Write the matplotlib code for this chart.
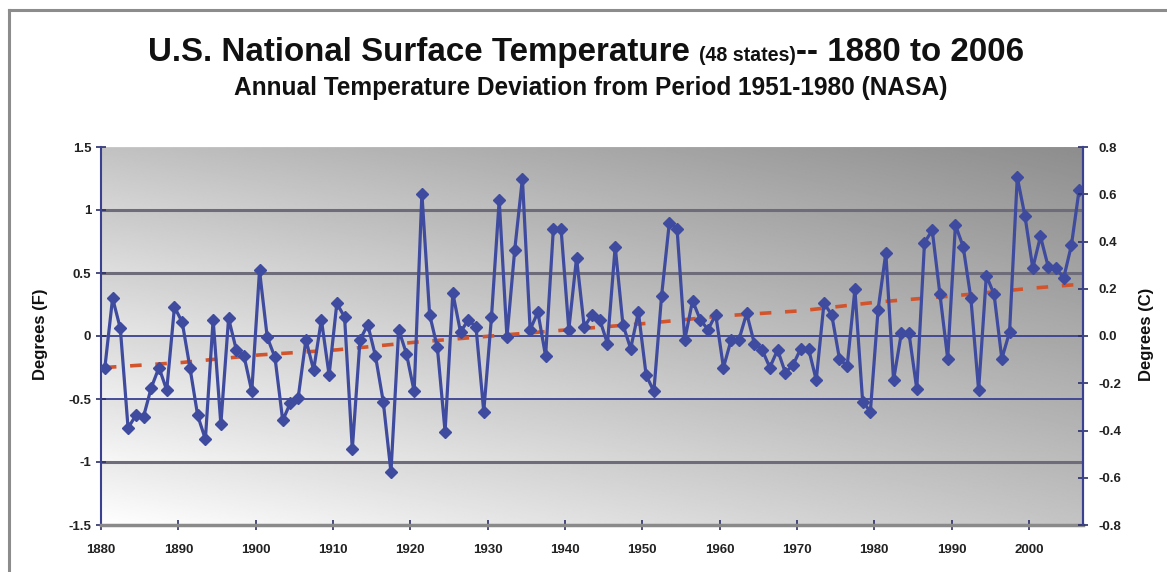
import matplotlib
matplotlib.use('Agg')
import matplotlib.pyplot as plt
from matplotlib import font_manager as fm
import numpy as np

# ---------------- data ----------------
years = list(range(1880, 2007))
temps_f = [
    -0.25, 0.30, 0.06, -0.73, -0.63, -0.64, -0.41, -0.25, -0.43, 0.23,   # 1880s
    0.11, -0.25, -0.63, -0.82, 0.13, -0.70, 0.14, -0.11, -0.16, -0.44,   # 1890s
    0.52, -0.01, -0.17, -0.67, -0.53, -0.49, -0.03, -0.27, 0.13, -0.31,  # 1900s
    0.26, 0.15, -0.90, -0.03, 0.09, -0.16, -0.52, -1.08, 0.05, -0.14,    # 1910s
    -0.44, 1.13, 0.17, -0.09, -0.76, 0.34, 0.03, 0.13, 0.07, -0.60,      # 1920s
    0.15, 1.08, -0.01, 0.68, 1.25, 0.05, 0.19, -0.16, 0.85, 0.85,        # 1930s
    0.05, 0.62, 0.07, 0.17, 0.13, -0.06, 0.71, 0.09, -0.10, 0.19,        # 1940s
    -0.31, -0.44, 0.32, 0.90, 0.85, -0.03, 0.28, 0.13, 0.05, 0.17,       # 1950s
    -0.25, -0.03, -0.03, 0.18, -0.06, -0.11, -0.25, -0.11, -0.29, -0.23, # 1960s
    -0.10, -0.10, -0.35, 0.26, 0.17, -0.18, -0.24, 0.37, -0.52, -0.60,   # 1970s
    0.21, 0.66, -0.35, 0.02, 0.02, -0.42, 0.74, 0.84, 0.33, -0.18,       # 1980s
    0.88, 0.71, 0.30, -0.43, 0.48, 0.33, -0.18, 0.03, 1.26, 0.95,        # 1990s
    0.54, 0.79, 0.55, 0.54, 0.46, 0.72, 1.16,                            # 2000s
]
trend_years = [1880, 1890, 1900, 1910, 1920, 1930, 1940, 1950, 1960, 1970, 1980, 1990, 2000, 2006]
trend_f = [-0.25, -0.21, -0.15, -0.11, -0.05, 0.00, 0.05, 0.10, 0.16, 0.20, 0.27, 0.32, 0.38, 0.41]

left_ticks = [-1.5, -1.0, -0.5, 0.0, 0.5, 1.0, 1.5]
left_labels = ['-1.5', '-1', '-0.5', '0', '0.5', '1', '1.5']
right_ticks = [-0.8, -0.6, -0.4, -0.2, 0.0, 0.2, 0.4, 0.6, 0.8]
right_labels = ['-0.8', '-0.6', '-0.4', '-0.2', '0.0', '0.2', '0.4', '0.6', '0.8']
decade_years = [1880, 1890, 1900, 1910, 1920, 1930, 1940, 1950, 1960, 1970, 1980, 1990, 2000]
decade_labels = [str(y) for y in decade_years]
grid_gray = [1.0, 0.5, -1.0]
grid_blue = [0.0, -0.5]

title_main = "U.S. National Surface Temperature "
title_small = "(48 states)"
title_end = "-- 1880 to 2006"
subtitle = "Annual Temperature Deviation from Period 1951-1980 (NASA)"

# ---------------- figure ----------------
W, H = 1167, 572
fig = plt.figure(figsize=(W / 100, H / 100), dpi=100)
fig.patch.set_facecolor('white')

FONT = 'Liberation Sans'

L, R, T, B = 101, 1083, 147, 525
ax = fig.add_axes([L / W, 1 - B / H, (R - L) / W, (B - T) / H])
ax.set_xlim(1879.5, 2006.5)
ax.set_ylim(-1.5, 1.5)

# background: diagonal gradient (dark top-right, light bottom-left),
# with each 0.5-degree band slightly darker at its top
u = np.linspace(0, 1, 600)[None, :]
v = np.linspace(0, 1, 600)[:, None]
band = (v * 6.0) % 1.0
g = 0.975 - 0.22 * u - 0.19 * v - 0.05 * (band - 0.5) * (1.0 - 0.5 * u)
g = np.clip(g, 0, 1)
ax.imshow(g, extent=[1879.5, 2006.5, -1.5, 1.5], origin='lower', aspect='auto',
          cmap='gray', vmin=0, vmax=1, zorder=0, interpolation='bilinear')

for yv in grid_gray:
    ax.axhline(yv, color='#6e6c78', lw=2.2, zorder=1)
for yv in grid_blue:
    ax.axhline(yv, color='#3a4190', lw=1.3, zorder=1)

ax.plot(trend_years, trend_f, color='#d2542c', lw=2.6, ls=(0, (3.2, 3.8)), zorder=2)
ax.plot(years, temps_f, color='#3e4b9e', lw=2.3, marker='D', ms=6.2,
        mec='#3e4b9e', mfc='#3e4b9e', zorder=3)

ax.set_yticks(left_ticks)
ax.set_yticklabels(left_labels)
ax.set_xticks([y - 0.5 for y in decade_years])
ax.set_xticklabels(decade_labels)
ax.tick_params(axis='both', direction='inout', length=7, width=1.2, colors='#2a2f6a',
               labelsize=9.5, labelcolor='#222222')
ax.tick_params(axis='x', pad=10)
for lab in ax.get_xticklabels() + ax.get_yticklabels():
    lab.set_fontfamily(FONT)
    lab.set_fontweight('bold')

ax.spines['top'].set_visible(False)
ax.spines['left'].set_color('#3a4190')
ax.spines['left'].set_linewidth(1.5)
ax.spines['right'].set_color('#3a4190')
ax.spines['right'].set_linewidth(1.5)
ax.spines['bottom'].set_color('#8a8a8a')
ax.spines['bottom'].set_linewidth(2.5)

ax2 = ax.twinx()
ax2.set_ylim(-0.8, 0.8)
ax2.set_yticks(right_ticks)
ax2.set_yticklabels(right_labels)
ax2.tick_params(axis='y', direction='inout', length=7, width=1.2, colors='#2a2f6a',
                labelsize=9.5, labelcolor='#222222', pad=8)
for lab in ax2.get_yticklabels():
    lab.set_fontfamily(FONT)
    lab.set_fontweight('bold')
for s in ['top', 'left', 'bottom']:
    ax2.spines[s].set_visible(False)
ax2.spines['right'].set_color('#3a4190')
ax2.spines['right'].set_linewidth(1.5)

fig.text(40 / W, 1 - 334 / H, 'Degrees (F)', rotation=90, ha='center', va='center',
         fontsize=12, fontweight='bold', family=FONT, color='#111111')
fig.text(1146 / W, 1 - 334 / H, 'Degrees (C)', rotation=90, ha='center', va='center',
         fontsize=12, fontweight='bold', family=FONT, color='#111111')

# chart-area border
fig.add_artist(plt.Line2D([9 / W, 9 / W], [0, 1 - 10 / H], color='#8c8c8c', lw=2.2,
                          transform=fig.transFigure))
fig.add_artist(plt.Line2D([9 / W, 1], [1 - 10 / H, 1 - 10 / H], color='#8c8c8c', lw=2.2,
                          transform=fig.transFigure))

# title built from pieces, fitted to the reference width
renderer = fig.canvas.get_renderer()
def fit_row(pieces, center_px, width_px, base_px):
    arts = [fig.text(0, 1 - base_px / H, s, fontsize=fs, fontweight='bold', family=FONT,
                     color='#111111', va='baseline') for s, fs in pieces]
    ws = [a.get_window_extent(renderer).width for a in arts]
    scale = width_px / sum(ws)
    for a, (s, fs) in zip(arts, pieces):
        a.set_fontsize(fs * scale)
    ws = [a.get_window_extent(renderer).width for a in arts]
    x = center_px - sum(ws) / 2
    for a, w in zip(arts, ws):
        a.set_x(x / W)
        x += w

fit_row([(title_main, 22), (title_small, 13), (title_end, 22)], 586, 878, 61)
fit_row([(subtitle, 13)], 591, 713, 95)

fig.savefig('out.png', dpi=100)
